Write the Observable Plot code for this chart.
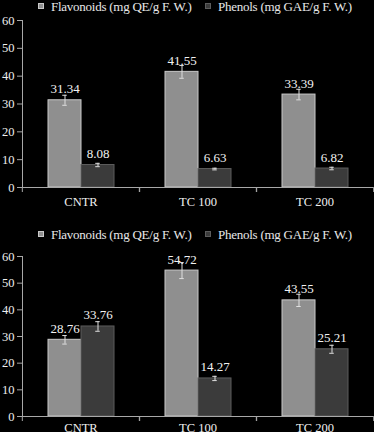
<!DOCTYPE html>
<html><head><meta charset="utf-8">
<script src="https://cdn.jsdelivr.net/npm/d3@7"></script>
<script src="https://cdn.jsdelivr.net/npm/@observablehq/plot@0.6"></script>
<style>
body{margin:0;background:#000;width:374px;height:432px;overflow:hidden;font-family:"Liberation Serif","Times New Roman",serif;color:#e8e8e8}
.legend{position:relative;height:14px;font-size:13px;letter-spacing:-0.25px;line-height:14px;white-space:nowrap}
.legend .item{position:absolute;top:0}
.sw{display:inline-block;width:4px;height:4px;border:1px solid #d0d0d0;margin-right:7px;vertical-align:2px}
svg{display:block}
g[aria-label="y-axis tick label"], g[aria-label="fx-axis tick label"]{fill:#efefef}
</style></head><body>
<div id="c"></div>
<script>
const categories = ["CNTR", "TC 100", "TC 200"];
const seriesNames = ["Flavonoids (mg QE/g F. W.)", "Phenols (mg GAE/g F. W.)"];
const yTicks = [0, 10, 20, 30, 40, 50, 60];

const flavonoidsTop = [31.34, 41.55, 33.39];
const flavonoidsTopErr = [1.8, 2.3, 1.9];
const phenolsTop = [8.08, 6.63, 6.82];
const phenolsTopErr = [0.6, 0.3, 0.45];

const flavonoidsBottom = [28.76, 54.72, 43.55];
const flavonoidsBottomErr = [1.6, 3.0, 2.3];
const phenolsBottom = [33.76, 14.27, 25.21];
const phenolsBottomErr = [1.8, 0.8, 1.5];

const FLAV_FILL = "#8f8f8f", FLAV_STROKE = "#c9c9c9";
const PHEN_FILL = "#3b3b3b", PHEN_STROKE = "#5c5c5c";

const W = 374, ML = 21, MR = 1;
const FW = (W - ML - MR) / categories.length;

function legend(top) {
  const d = document.createElement("div");
  d.className = "legend";
  d.style.marginTop = top + "px";
  const lefts = [38, 205];
  const sw = [[FLAV_FILL, FLAV_STROKE], [PHEN_FILL, PHEN_STROKE]];
  seriesNames.forEach((s, i) => {
    const it = document.createElement("span");
    it.className = "item";
    it.style.left = lefts[i] + "px";
    const b = document.createElement("span");
    b.className = "sw";
    b.style.background = sw[i][0];
    b.style.borderColor = sw[i][1];
    it.appendChild(b);
    it.appendChild(document.createTextNode(s));
    d.appendChild(it);
  });
  return d;
}

function panel(flav, flavErr, phen, phenErr, marginTop, height, marginBottom, labelPad) {
  const fr = categories.map((c, i) => ({cat: c, s: seriesNames[0], v: flav[i], e: flavErr[i]}));
  const pr = categories.map((c, i) => ({cat: c, s: seriesNames[1], v: phen[i], e: phenErr[i]}));
  const all = fr.concat(pr);
  const inset = (FW / 3.5 - 5) / 2;
  return Plot.plot({
    width: W, height, marginLeft: ML, marginRight: MR, marginTop, marginBottom,
    style: {background: "#000", color: "#a8a8a8", fontFamily: "'Liberation Serif', serif", fontSize: "12.5px"},
    fx: {domain: categories, padding: 0, label: null},
    x: {domain: seriesNames, paddingInner: 0, paddingOuter: 0.75, axis: null},
    y: {domain: [0, 60], ticks: yTicks, tickSize: 5, tickPadding: 3, line: true, label: null},
    marks: [
      Plot.barY(fr, {fx: "cat", x: "s", y: "v", fill: FLAV_FILL, stroke: FLAV_STROKE, strokeWidth: 1}),
      Plot.barY(pr, {fx: "cat", x: "s", y: "v", fill: PHEN_FILL, stroke: PHEN_STROKE, strokeWidth: 1}),
      Plot.ruleX(all, {fx: "cat", x: "s", y1: d => d.v - d.e, y2: d => d.v + d.e, stroke: "#e0e0e0", strokeWidth: 1}),
      Plot.tickY(all, {fx: "cat", x: "s", y: d => d.v + d.e, stroke: "#e0e0e0", insetLeft: inset, insetRight: inset}),
      Plot.tickY(all, {fx: "cat", x: "s", y: d => d.v - d.e, stroke: "#e0e0e0", insetLeft: inset, insetRight: inset}),
      Plot.text(all, {fx: "cat", x: "s", y: "v", text: d => d.v.toFixed(2), lineAnchor: "bottom", dy: -7, fill: "#f2f2f2", fontSize: 13}),
      Plot.ruleY([0], {stroke: "#a8a8a8"}),
      Plot.axisFx({anchor: "bottom", tickSize: 0, tickPadding: labelPad, fill: "#efefef", label: null, fontSize: 12.5}),
      Plot.axisFx({anchor: "bottom", tickSize: 5, tickFormat: () => "", dx: FW / 2, stroke: "#a8a8a8", label: null}),
      Plot.axisFx({anchor: "bottom", tickSize: 5, tickFormat: () => "", dx: -FW / 2, stroke: "#a8a8a8", label: null})
    ]
  });
}

const c = document.getElementById("c");
c.appendChild(legend(0));
c.appendChild(panel(flavonoidsTop, flavonoidsTopErr, phenolsTop, phenolsTopErr, 6, 203, 30, 10));
c.appendChild(legend(11));
c.appendChild(panel(flavonoidsBottom, flavonoidsBottomErr, phenolsBottom, phenolsBottomErr, 14, 190, 16, 7));
</script>
</body></html>
